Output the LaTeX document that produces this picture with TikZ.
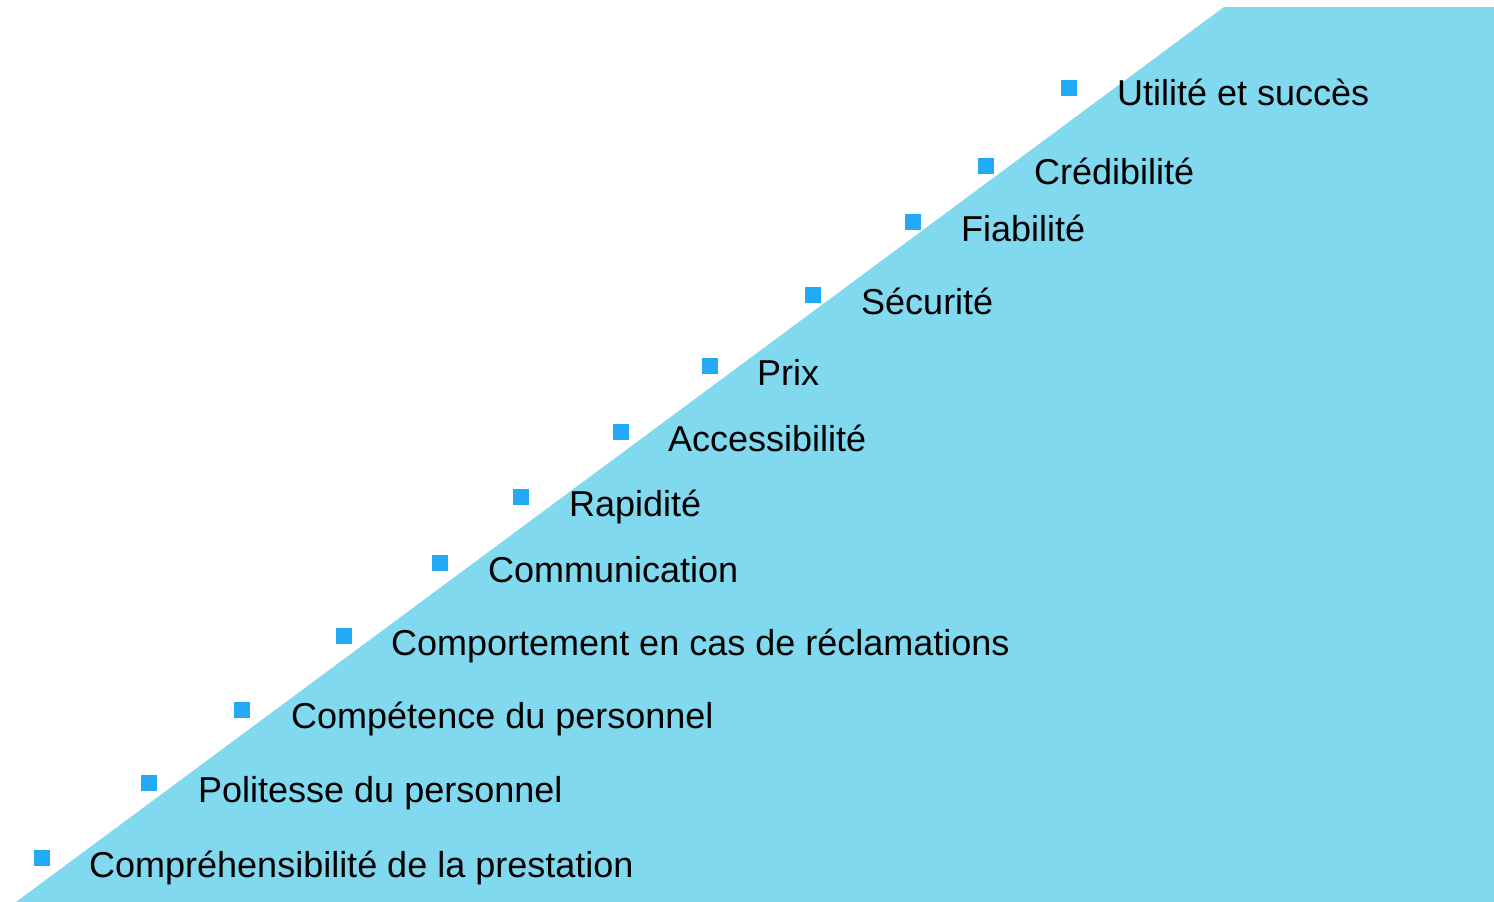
\documentclass[tikz,border=0pt]{standalone}
\usepackage{fontspec}
\setmainfont{Liberation Sans}
\definecolor{stairfill}{RGB}{128,217,239}
\definecolor{bulletblue}{RGB}{34,170,246}
\begin{document}
\begin{tikzpicture}[x=1pt,y=-1pt,
  bulletsq/.style={fill=bulletblue,draw=none,minimum size=16pt,inner sep=0pt,rectangle},
  itemtext/.style={anchor=base west,inner sep=0pt,font=\fontsize{36}{42}\selectfont,text=black}]
  \useasboundingbox (0,0) rectangle (1494,902);
  % rising background wedge
  \fill[stairfill] (16,902) -- (1224,7) -- (1494,7) -- (1494,902) -- cycle;
  % bullet centre x / y, text x / baseline, label
  \foreach \i/\bx/\by/\tx/\ty/\lab in {
    1/1069/88/1117/105/{Utilité et succès},
    2/986/166/1034/184/{Crédibilité},
    3/913/222/961/241/{Fiabilité},
    4/813/295/861/314/{Sécurité},
    5/710/366/757/385/{Prix},
    6/621/432/668/451/{Accessibilité},
    7/521/497/569/516/{Rapidité},
    8/440/563/488/582/{Communication},
    9/344/636/391/655/{Comportement en cas de réclamations},
    10/242/710/291/728/{Compétence du personnel},
    11/149/783/198/802/{Politesse du personnel},
    12/42/858/89/877/{Compréhensibilité de la prestation}}{
    \node[bulletsq] (b\i) at (\bx,\by) {};
    \node[itemtext] (t\i) at (\tx,\ty) {\lab};
  }
\end{tikzpicture}
\end{document}
